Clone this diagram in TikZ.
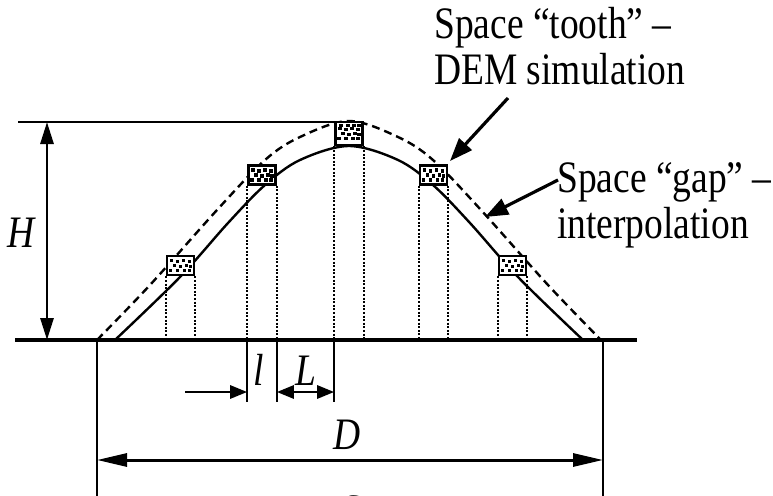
\documentclass[tikz,border=0pt]{standalone}
\usepackage{fontspec}
\setmainfont{Liberation Serif}
\usetikzlibrary{arrows.meta}
\newcommand\tall[1]{\scalebox{1}[1.2]{#1}}
\begin{document}
\begin{tikzpicture}[x=1pt,y=-1pt,
  lbl/.style={inner sep=0pt, font=\fontsize{37.5}{39}\selectfont},
  solidcurve/.style={line width=2.4pt},
  dashcurve/.style={line width=2.4pt, dash pattern=on 8pt off 5pt},
  dotline/.style={line width=2pt, dash pattern=on 2pt off 1.6pt},
  grain/.style={draw, line width=2.6pt, fill=white, inner sep=0pt, minimum width=27pt, minimum height=19pt},
  dim/.style={line width=2.8pt},
  ext/.style={line width=2.4pt},
  sm/.tip={Triangle[length=17pt,width=13pt]},
  md/.tip={Triangle[length=22pt,width=13pt]},
  lg/.tip={Triangle[length=30pt,width=13pt]},
  co/.tip={Triangle[length=23pt,width=17pt]},
  callout/.style={line width=3.2pt, -co},
  ]
\useasboundingbox (0,0) rectangle (773,495);

% ground line
\coordinate (gl) at (15,340);
\coordinate (gr) at (637,340);

% curves
\draw[dashcurve] plot[smooth, tension=0.55] coordinates {(97,340) (150,285) (217,210) (265,160) (300,137) (349,121) (398,137) (433,160) (481,210) (548,285) (601,340)};
\draw[solidcurve] plot[smooth, tension=0.55] coordinates {(115,340) (180,277) (228,223) (265,185) (300,160) (349,146) (398,160) (433,185) (470,223) (518,277) (583,340)};

% boxes
\node[grain] (b1) at (180.5,265.5) {};
\node[grain] (b2) at (262,175) {};
\node[grain, minimum height=23pt] (b3) at (349,133.5) {};
\node[grain] (b4) at (433.5,175) {};
\node[grain] (b5) at (512.5,265.5) {};
\foreach \n in {b1,b2,b3,b4,b5}{
  \foreach \dx/\dy in {-9/-5,-3/-4,3/-5,9/-4,-6/0,0/1,6/0,10/1,-10/5,-3/5,4/5,9/5}
    \fill ([shift={(\dx-1.6,\dy-1.6)}]\n.center) rectangle +(3.2,3.2);
}
\foreach \dx in {-8,-1,5,10}
  \fill ([shift={(\dx-1.6,-9.6)}]b3.center) rectangle +(3.2,3.2);

% dotted projections
\foreach \n in {b1,b2,b3,b4,b5}{
  \draw[dotline] (\n.south west) -- (\n.south west |- gl);
  \draw[dotline] (\n.south east) -- (\n.south east |- gl);
}

\draw[line width=4.5pt] (gl) -- (gr);

% H dimension
\coordinate (ht0) at (18,122);
\coordinate (hT) at (47,122);
\coordinate (hB) at (47,340);
\draw[ext] (ht0) -- (b3.north west |- ht0);
\draw[dim, md-md] (hT) -- (hB);
\node[lbl, anchor=base] (H) at (22,247) {\tall{\textit{H}}};

% l and L dimensions
\coordinate (tk) at (0,402);
\coordinate (ar) at (0,392);
\coordinate (la) at (185,392);
\draw[ext] (b2.south west |- gl) -- (b2.south west |- tk);
\draw[ext] (b2.south east |- gl) -- (b2.south east |- tk);
\draw[ext] (b3.south west |- gl) -- (b3.south west |- tk);
\draw[dim, -sm] (la) -- (b2.south west |- ar);
\draw[dim, sm-sm] (b2.south east |- ar) -- (b3.south west |- ar);
\node[lbl, anchor=base] (l) at (258.5,385) {\tall{\textit{l}}};
\node[lbl, anchor=base] (L) at (306,385) {\tall{\textit{L}}};

% D dimension
\coordinate (el) at (97,340);
\coordinate (er) at (603,340);
\coordinate (eb) at (0,497);
\coordinate (dy) at (0,460);
\draw[ext] (el) -- (el |- eb);
\draw[ext] (er) -- (er |- eb);
\draw[line width=3pt, lg-lg] (el |- dy) -- (er |- dy);
\node[lbl, anchor=base] (D) at (347,449) {\tall{\textit{D}}};
\node[lbl, anchor=base] (S) at (351,525) {\tall{\textit{S}}};

% callouts
\node[lbl, anchor=base west] (tooth) at (434,38) {\tall{\begin{tabular}[t]{@{}l@{}}Space “tooth” –\\DEM simulation\end{tabular}}};
\node[lbl, anchor=base west] (gap) at (557,192) {\tall{\begin{tabular}[t]{@{}l@{}}Space “gap” –\\interpolation\end{tabular}}};
\coordinate (ta) at (508,98);
\coordinate (tt) at (450,161);
\coordinate (ga) at (558,180);
\coordinate (gt) at (485,217);
\draw[callout] (ta) -- (tt);
\draw[callout] (ga) -- (gt);
\end{tikzpicture}
\end{document}
